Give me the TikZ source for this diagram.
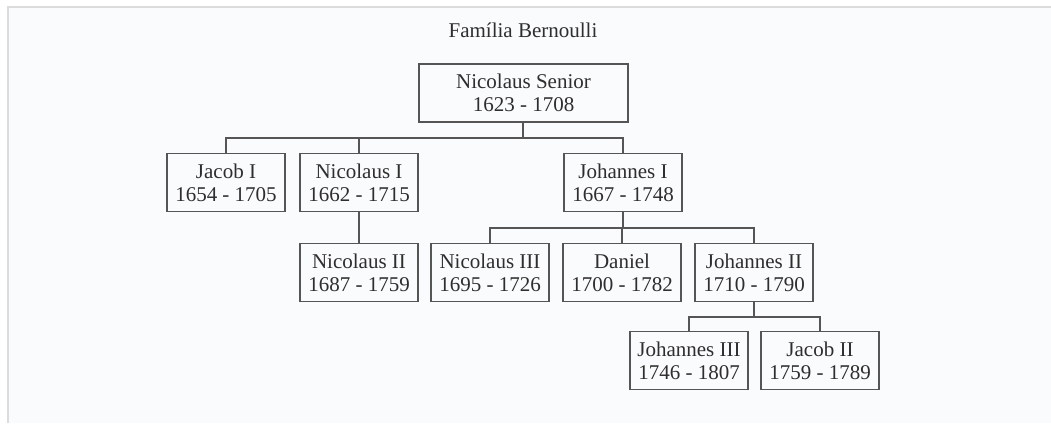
\documentclass[tikz,border=0pt]{standalone}
\usepackage{fontspec}
\setmainfont{Liberation Serif}
\definecolor{bgc}{HTML}{FAFBFC}
\definecolor{framec}{HTML}{DCDCDC}
\definecolor{linec}{HTML}{555555}
\definecolor{txtc}{HTML}{2E2E2E}
\tikzset{
  person/.style={draw=linec, line width=1.3pt, fill=bgc, text=txtc, minimum width=118pt, minimum height=58pt, inner sep=0pt, align=center, font=\fontsize{21}{23}\selectfont},
  conn/.style={draw=linec, line width=1.3pt}
}
\begin{document}
\begin{tikzpicture}[x=1pt,y=-1pt]
\useasboundingbox (0,0) rectangle (1051,423);
\fill[white] (0,0) rectangle (1051,423);
\fill[bgc] (8,7) rectangle (1051,423);
\draw[framec, line width=2pt] (8,423) -- (8,7) -- (1051,7);

\node[text=txtc, font=\fontsize{21}{23}\selectfont] (title) at (523,30) {Família Bernoulli};

\node[person, minimum width=209pt] (ns) at (523.5,93) {Nicolaus Senior\\1623 - 1708};

\node[person] (j1)  at (226,182.5) {Jacob I\\1654 - 1705};
\node[person] (n1)  at (359,182.5) {Nicolaus I\\1662 - 1715};
\node[person] (jo1) at (623,182.5) {Johannes I\\1667 - 1748};

\node[person] (n2)  at (359,272.5) {Nicolaus II\\1687 - 1759};
\node[person] (n3)  at (490,272.5) {Nicolaus III\\1695 - 1726};
\node[person] (dan) at (622,272.5) {Daniel\\1700 - 1782};
\node[person] (jo2) at (754,272.5) {Johannes II\\1710 - 1790};

\node[person] (jo3) at (689,360.5) {Johannes III\\1746 - 1807};
\node[person] (j2)  at (820,360.5) {Jacob II\\1759 - 1789};

\coordinate (b1) at (0,138);
\coordinate (b2) at (0,228);
\coordinate (b3) at (0,317);
\coordinate (nsdrop) at ([xshift=-0.5pt]ns.south);

\draw[conn] (nsdrop) -- (nsdrop |- b1);
\draw[conn] (j1.north) -- (j1.north |- b1) -- (jo1.north |- b1) -- (jo1.north);
\draw[conn] (n1.north) -- (n1.north |- b1);

\draw[conn] (n1.south) -- (n2.north);

\draw[conn] (jo1.south) -- (jo1.south |- b2);
\draw[conn] (n3.north) -- (n3.north |- b2) -- (jo2.north |- b2) -- (jo2.north);
\draw[conn] (dan.north) -- (dan.north |- b2);

\draw[conn] (jo2.south) -- (jo2.south |- b3);
\draw[conn] (jo3.north) -- (jo3.north |- b3) -- (j2.north |- b3) -- (j2.north);
\end{tikzpicture}
\end{document}
